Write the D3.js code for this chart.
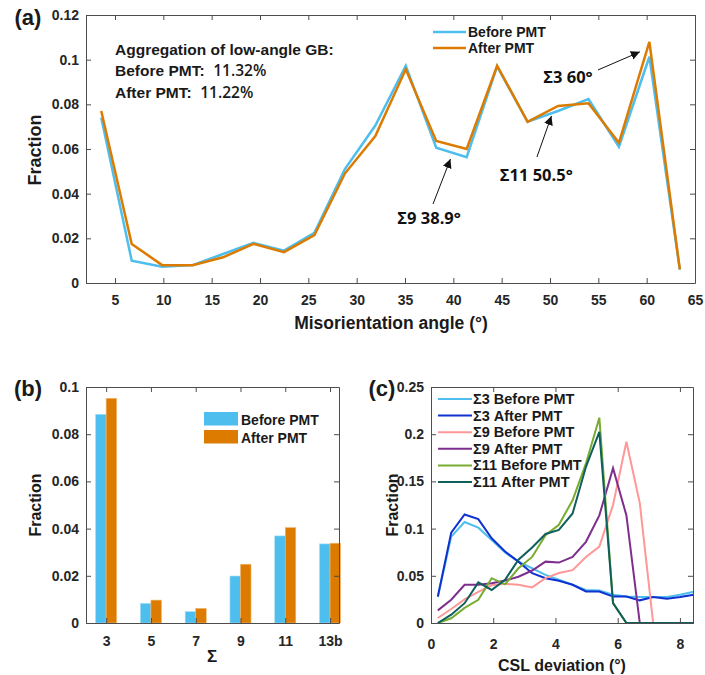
<!DOCTYPE html>
<html>
<head>
<meta charset="utf-8">
<script src="https://cdn.jsdelivr.net/npm/d3@7"></script>
<style>
  body { margin: 0; background: #fff; }
  svg { font-family: "Liberation Sans", Arial, sans-serif; }
  .tick text { font-size: 14px; font-weight: bold; fill: #262626; }
  .domain, .tick line { stroke: #4d4d4d; }
</style>
</head>
<body>
<div id="chart"></div>
<script>
// (a) misorientation angle distribution
const angleBins = [3.58, 6.73, 9.88, 13.03, 16.18, 19.33, 22.48, 25.63, 28.78, 31.93,
  35.08, 38.23, 41.38, 44.53, 47.68, 50.83, 53.98, 57.13, 60.28, 63.43]
const angleBefore = [0.074, 0.010, 0.0073, 0.008, 0.013, 0.018, 0.0145, 0.0225, 0.051, 0.0705,
  0.0972, 0.0606, 0.0563, 0.097, 0.0722, 0.077, 0.0824, 0.061, 0.1013, 0.006]
const angleAfter = [0.077, 0.0175, 0.008, 0.008, 0.0115, 0.0175, 0.0138, 0.0215, 0.049, 0.0658,
  0.0957, 0.0636, 0.060, 0.0973, 0.0722, 0.0793, 0.0805, 0.0628, 0.108, 0.0061]
const angleXTicks = [5, 10, 15, 20, 25, 30, 35, 40, 45, 50, 55, 60, 65]
const angleYTicks = [0, 0.02, 0.04, 0.06, 0.08, 0.1, 0.12]

// (b) CSL boundary fractions
const sigmaCats = ["3", "5", "7", "9", "11", "13b"]
const sigmaBefore = [0.0884, 0.0083, 0.0048, 0.0199, 0.0369, 0.0335]
const sigmaAfter = [0.0952, 0.0097, 0.0062, 0.0249, 0.0404, 0.0338]
const sigmaYTicks = [0, 0.02, 0.04, 0.06, 0.08, 0.1]

// (c) CSL deviation distributions
const devBins = [0.22, 0.65, 1.08, 1.52, 1.95, 2.38, 2.81, 3.25, 3.68, 4.11,
  4.55, 4.98, 5.41, 5.85, 6.28, 6.71, 7.14, 7.58, 8.01, 8.44]
const s3Before = [0.0275, 0.0915, 0.107, 0.101, 0.088, 0.0746, 0.065, 0.058, 0.051, 0.0458,
  0.0405, 0.035, 0.0345, 0.030, 0.028, 0.0275, 0.0275, 0.0275, 0.030, 0.033]
const s3After = [0.028, 0.0957, 0.115, 0.110, 0.0898, 0.0757, 0.065, 0.0528, 0.0475, 0.0447,
  0.0405, 0.0334, 0.0334, 0.028, 0.028, 0.024, 0.0275, 0.0257, 0.0275, 0.030]
const s9Before = [0.0053, 0.0148, 0.025, 0.033, 0.040, 0.0415, 0.0405, 0.0377, 0.0475, 0.053,
  0.056, 0.070, 0.081, 0.125, 0.192, 0.127, 0, 0, 0, 0]
const s9After = [0.0134, 0.0246, 0.0405, 0.0405, 0.042, 0.045, 0.049, 0.0556, 0.065, 0.064,
  0.070, 0.086, 0.114, 0.164, 0.114, 0, 0, 0, 0, 0]
const s11Before = [0, 0.005, 0.016, 0.0246, 0.0475, 0.041, 0.058, 0.070, 0.093, 0.104,
  0.130, 0.169, 0.2175, 0.021, 0, 0, 0, 0, 0, 0]
const s11After = [0, 0.0088, 0.021, 0.043, 0.035, 0.0458, 0.067, 0.080, 0.0943, 0.0986,
  0.116, 0.1655, 0.2025, 0.021, 0, 0, 0, 0, 0, 0]
const devNames = ["Σ3 Before PMT", "Σ3 After PMT", "Σ9 Before PMT", "Σ9 After PMT", "Σ11 Before PMT", "Σ11 After PMT"]
const devColors = ["#4dbeee", "#1030d0", "#ff9797", "#7e2f8e", "#77ac30", "#0f5f5c"]
const devXTicks = [0, 2, 4, 6, 8]
const devYTicks = [0, 0.05, 0.1, 0.15, 0.2, 0.25]

const blue = "#4dbeee"
const orange = "#dc7b00"

const svg = d3.select("#chart").append("svg")
    .attr("width", 705)
    .attr("height", 675)

svg.append("defs").append("marker")
    .attr("id", "arrow")
    .attr("viewBox", "0 0 10 10")
    .attr("refX", 10).attr("refY", 5)
    .attr("markerWidth", 9).attr("markerHeight", 9)
    .attr("markerUnits", "userSpaceOnUse")
    .attr("orient", "auto")
    .append("path").attr("d", "M0,0L10,5L0,10z").attr("fill", "#111")

// box with inward ticks on all four sides, the way Matlab draws it
function frame(g, x, y, xTicks, yTicks, xFmt, yFmt, xPad) {
    const [x0, x1] = x.range(), [y0, y1] = y.range()
    g.append("g").attr("transform", `translate(0,${y0})`)
        .call(d3.axisBottom(x).tickValues(xTicks).tickFormat(xFmt).tickSizeInner(-5).tickSizeOuter(0).tickPadding(xPad))
    g.append("g").attr("transform", `translate(0,${y1})`)
        .call(d3.axisTop(x).tickValues(xTicks).tickFormat("").tickSizeInner(-5).tickSizeOuter(0))
    g.append("g").attr("transform", `translate(${x0},0)`)
        .call(d3.axisLeft(y).tickValues(yTicks).tickFormat(yFmt).tickSizeInner(-5).tickSizeOuter(0).tickPadding(7))
    g.append("g").attr("transform", `translate(${x1},0)`)
        .call(d3.axisRight(y).tickValues(yTicks).tickFormat("").tickSizeInner(-5).tickSizeOuter(0))
}

function label(text, x, y, size, rotate) {
    const t = svg.append("text")
        .attr("x", x).attr("y", y)
        .attr("text-anchor", "middle")
        .attr("font-size", size).attr("font-weight", "bold")
        .attr("fill", "#1a1a1a")
        .text(text)
    if (rotate) t.attr("transform", `rotate(-90,${x},${y})`)
    return t
}

const yFmt = d => d === 0 ? "0" : d3.format("~g")(d)

// ---------- (a)
const xa = d3.scaleLinear().domain([2, 65]).range([86, 695])
const ya = d3.scaleLinear().domain([0, 0.12]).range([283, 15])
const ga = svg.append("g")
frame(ga, xa, ya, angleXTicks, angleYTicks, d3.format("d"), yFmt, 12)

const lineA = d3.line().x((d, i) => xa(angleBins[i])).y(d => ya(d))
ga.append("path").datum(angleBefore).attr("d", lineA)
    .attr("fill", "none").attr("stroke", blue).attr("stroke-width", 2.5)
ga.append("path").datum(angleAfter).attr("d", lineA)
    .attr("fill", "none").attr("stroke", orange).attr("stroke-width", 2.5)

const legA = [["Before PMT", blue], ["After PMT", orange]]
legA.forEach((l, i) => {
    ga.append("line").attr("x1", 433).attr("x2", 466).attr("y1", 32 + i * 16).attr("y2", 32 + i * 16)
        .attr("stroke", l[1]).attr("stroke-width", 2.5)
    ga.append("text").attr("x", 468).attr("y", 37 + i * 16)
        .attr("font-size", 14).attr("font-weight", "bold").attr("fill", "#1a1a1a").text(l[0])
})

const aggLines = [["Aggregation of low-angle GB:", ""], ["Before PMT:  ", "11.32%"], ["After PMT:  ", "11.22%"]]
aggLines.forEach((l, i) => {
    const t = ga.append("text").attr("x", xa(5.0)).attr("y", ya(0.1022) + i * 21.5)
        .attr("font-size", 15.5).attr("font-weight", "bold").attr("fill", "#1a1a1a")
        .attr("xml:space", "preserve")
    t.append("tspan").text(l[0])
    if (l[1]) t.append("tspan").attr("font-family", "'Open Sans', sans-serif").attr("font-weight", 600).text(l[1])
})

const notes = [
    { text: "Σ3 60°", tx: 49.3, ty: 0.0895, from: [54.97, 0.0954], to: [59.3, 0.1035] },
    { text: "Σ9 38.9°", tx: 34.2, ty: 0.0265, from: [37.9, 0.0354], to: [39.7, 0.0555] },
    { text: "Σ11 50.5°", tx: 44.8, ty: 0.0455, from: [48.65, 0.0564], to: [50.15, 0.0748] }
]
notes.forEach(n => {
    ga.append("line")
        .attr("x1", xa(n.from[0])).attr("y1", ya(n.from[1]))
        .attr("x2", xa(n.to[0])).attr("y2", ya(n.to[1]))
        .attr("stroke", "#111").attr("stroke-width", 1).attr("marker-end", "url(#arrow)")
    ga.append("text").attr("x", xa(n.tx)).attr("y", ya(n.ty))
        .attr("font-family", "'Open Sans', sans-serif").attr("font-size", 16.5).attr("font-weight", "bold")
        .attr("fill", "#111").text(n.text)
})

label("(a)", 28, 25, 22)
label("Fraction", 41, 150, 18, true)
label("Misorientation angle (°)", 391, 329, 17.5)

// ---------- (b)
const xb = d3.scaleLinear().domain([0.55, 6.2]).range([86, 339])
const yb = d3.scaleLinear().domain([0, 0.1]).range([623, 387])
const gb = svg.append("g")
const barW = 0.235
gb.selectAll("rect.before").data(sigmaBefore).enter().append("rect")
    .attr("x", (d, i) => xb(i + 1 - barW)).attr("width", xb(barW) - xb(0))
    .attr("y", d => yb(d)).attr("height", d => yb(0) - yb(d))
    .attr("fill", blue).attr("stroke", "#9fdcf5").attr("stroke-width", 0.6)
gb.selectAll("rect.after").data(sigmaAfter).enter().append("rect")
    .attr("x", (d, i) => xb(i + 1)).attr("width", xb(barW) - xb(0))
    .attr("y", d => yb(d)).attr("height", d => yb(0) - yb(d))
    .attr("fill", orange).attr("stroke", "#f0b870").attr("stroke-width", 0.6)
frame(gb, xb, yb, d3.range(1, 7), sigmaYTicks, i => sigmaCats[i - 1], yFmt, 13)

const legB = [["Before PMT", blue], ["After PMT", orange]]
legB.forEach((l, i) => {
    gb.append("rect").attr("x", 204).attr("y", 412 + i * 18).attr("width", 34).attr("height", 13.5)
        .attr("fill", l[1])
    gb.append("text").attr("x", 241).attr("y", 425 + i * 18)
        .attr("font-size", 14).attr("font-weight", "bold").attr("fill", "#1a1a1a").text(l[0])
})

label("(b)", 28, 396, 22)
label("Fraction", 41, 505, 16, true)
label("Σ", 212, 662, 17)

// ---------- (c)
const xc = d3.scaleLinear().domain([0, 8.42]).range([431, 693])
const yc = d3.scaleLinear().domain([0, 0.25]).range([623, 387])
const gc = svg.append("g")
const devSeries = [s3Before, s3After, s9Before, s9After, s11Before, s11After]
const lineC = d3.line().x((d, i) => xc(devBins[i])).y(d => yc(d))
devSeries.forEach((s, k) => {
    gc.append("path").datum(s).attr("d", lineC)
        .attr("fill", "none").attr("stroke", devColors[k]).attr("stroke-width", 2)
})
frame(gc, xc, yc, devXTicks, devYTicks, d3.format("d"), yFmt, 16)

devNames.forEach((n, i) => {
    const yy = 399 + i * 16.6
    gc.append("line").attr("x1", 438).attr("x2", 472).attr("y1", yy).attr("y2", yy)
        .attr("stroke", devColors[i]).attr("stroke-width", 2)
    gc.append("text").attr("x", 473).attr("y", yy + 5)
        .attr("font-size", 14.5).attr("font-weight", "bold").attr("fill", "#1a1a1a").text(n)
})

label("(c)", 382, 396, 22)
label("Fraction", 398, 505, 16, true)
label("CSL deviation (°)", 562, 671, 16)
</script>
</body>
</html>
